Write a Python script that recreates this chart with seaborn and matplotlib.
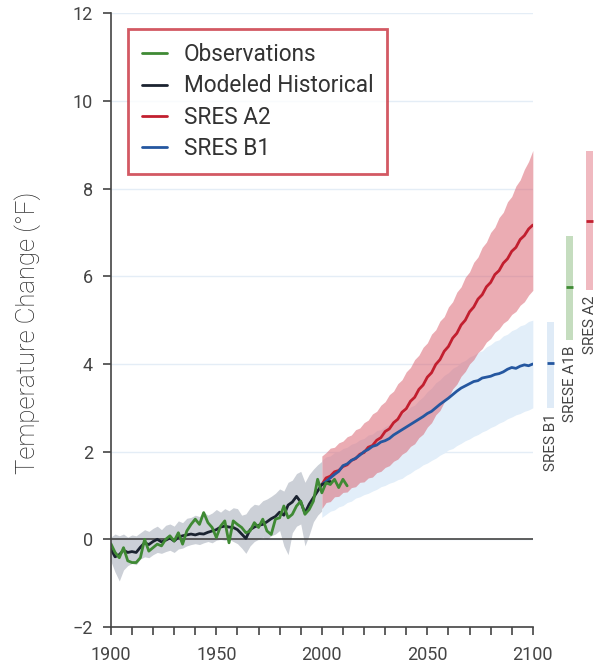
import numpy as np
import pandas as pd
import matplotlib
matplotlib.use('Agg')
import matplotlib.pyplot as plt
import seaborn as sns

# historical period, 2-year steps
hist_years = list(range(1900, 2001, 2))
hist_upper = [0.05, 0.12, 0.08, 0.12, 0.05, 0.10, 0.08, 0.15, 0.22, 0.18,
              0.25, 0.30, 0.22, 0.32, 0.35, 0.30, 0.42, 0.38, 0.48, 0.50,
              0.55, 0.52, 0.62, 0.55, 0.60, 0.68, 0.62, 0.70, 0.65, 0.72,
              0.70, 0.55, 0.58, 0.72, 0.80, 0.78, 0.88, 0.92, 0.98, 1.05,
              1.15, 1.10, 1.30, 1.35, 1.50, 1.55, 1.30, 1.48, 1.60, 1.70, 1.78]
hist_lower = [-0.50, -0.75, -0.95, -0.70, -0.60, -0.55, -0.58, -0.45, -0.40, -0.42,
              -0.35, -0.30, -0.32, -0.28, -0.25, -0.30, -0.22, -0.20, -0.15, -0.12,
              -0.10, -0.12, -0.08, -0.05, -0.08, -0.02, 0.00, -0.02, 0.00, -0.05,
              -0.10, -0.20, -0.32, -0.15, -0.05, 0.00, 0.05, 0.00, 0.08, 0.12,
              0.20, -0.15, -0.35, 0.15, 0.30, 0.35, -0.15, 0.10, 0.40, 0.55, 0.65]

model_years = list(range(1900, 2005, 2))
model_hist = [-0.22, -0.40, -0.35, -0.25, -0.30, -0.28, -0.30, -0.18, -0.08, -0.12,
              -0.05, 0.00, -0.06, -0.02, 0.03, -0.04, 0.05, 0.08, 0.10, 0.12,
              0.10, 0.13, 0.12, 0.16, 0.19, 0.22, 0.28, 0.30, 0.28, 0.27,
              0.22, 0.12, 0.02, 0.22, 0.28, 0.32, 0.34, 0.40, 0.47, 0.52,
              0.62, 0.55, 0.78, 0.85, 0.98, 0.85, 0.60, 0.80, 0.95, 1.10,
              1.25, 1.28, 1.32]

obs_years = list(range(1900, 2013, 2))
observations = [-0.10, -0.30, -0.42, -0.19, -0.49, -0.53, -0.53, -0.42, 0.00, -0.27,
                -0.19, -0.11, -0.15, 0.00, 0.08, -0.04, 0.15, -0.11, 0.19, 0.34,
                0.46, 0.34, 0.61, 0.38, 0.27, 0.04, 0.30, 0.42, -0.08, 0.42,
                0.34, 0.27, 0.15, 0.19, 0.38, 0.27, 0.46, 0.19, 0.11, 0.46,
                0.49, 0.76, 0.49, 0.57, 0.76, 0.87, 0.57, 0.68, 0.87, 1.37,
                1.06, 1.29, 1.25, 1.37, 1.18, 1.37, 1.22]

# scenario period, 2-year steps
proj_years = list(range(2000, 2101, 2))
a2_mean = [1.25, 1.40, 1.44, 1.54, 1.57, 1.66, 1.70, 1.80, 1.84, 1.94,
           1.98, 2.10, 2.14, 2.26, 2.32, 2.46, 2.52, 2.66, 2.74, 2.90,
           2.98, 3.15, 3.24, 3.42, 3.52, 3.70, 3.80, 3.99, 4.10, 4.29,
           4.40, 4.59, 4.70, 4.89, 5.00, 5.19, 5.30, 5.48, 5.58, 5.76,
           5.86, 6.04, 6.13, 6.30, 6.40, 6.57, 6.66, 6.84, 6.93, 7.08, 7.17]
a2_upper = [1.90, 1.98, 2.08, 2.10, 2.20, 2.24, 2.34, 2.38, 2.50, 2.54,
            2.66, 2.72, 2.86, 2.92, 3.06, 3.14, 3.30, 3.38, 3.55, 3.64,
            3.82, 3.92, 4.10, 4.20, 4.38, 4.48, 4.68, 4.78, 4.98, 5.08,
            5.30, 5.42, 5.64, 5.76, 5.98, 6.10, 6.32, 6.44, 6.66, 6.78,
            7.00, 7.12, 7.34, 7.46, 7.70, 7.82, 8.06, 8.20, 8.44, 8.62, 8.87]
a2_lower = [0.70, 0.84, 0.86, 0.97, 0.98, 1.07, 1.08, 1.18, 1.20, 1.30,
            1.31, 1.40, 1.42, 1.52, 1.55, 1.64, 1.68, 1.78, 1.83, 1.94,
            2.00, 2.12, 2.18, 2.32, 2.40, 2.56, 2.66, 2.84, 2.94, 3.13,
            3.24, 3.43, 3.54, 3.72, 3.83, 4.00, 4.10, 4.26, 4.35, 4.50,
            4.58, 4.72, 4.80, 4.93, 5.00, 5.13, 5.20, 5.34, 5.42, 5.57, 5.68]
b1_mean = [1.25, 1.32, 1.40, 1.48, 1.55, 1.68, 1.72, 1.80, 1.85, 1.92,
           2.00, 2.05, 2.12, 2.15, 2.22, 2.25, 2.30, 2.38, 2.44, 2.50,
           2.56, 2.62, 2.68, 2.74, 2.80, 2.87, 2.92, 3.00, 3.08, 3.15,
           3.22, 3.30, 3.38, 3.45, 3.50, 3.55, 3.60, 3.62, 3.68, 3.70,
           3.72, 3.76, 3.78, 3.82, 3.88, 3.92, 3.90, 3.95, 3.98, 3.96, 4.00]
b1_upper = [1.80, 1.88, 1.90, 1.98, 2.00, 2.07, 2.10, 2.17, 2.20, 2.27,
            2.30, 2.38, 2.40, 2.48, 2.50, 2.57, 2.62, 2.70, 2.76, 2.86,
            2.92, 3.02, 3.06, 3.17, 3.25, 3.37, 3.45, 3.57, 3.64, 3.74,
            3.80, 3.90, 3.95, 4.04, 4.08, 4.16, 4.20, 4.27, 4.30, 4.39,
            4.44, 4.52, 4.55, 4.64, 4.68, 4.76, 4.80, 4.87, 4.90, 4.97, 5.00]
b1_lower = [0.50, 0.57, 0.64, 0.67, 0.74, 0.77, 0.84, 0.87, 0.94, 0.97,
            1.02, 1.05, 1.10, 1.14, 1.20, 1.23, 1.28, 1.31, 1.36, 1.39,
            1.46, 1.51, 1.58, 1.63, 1.70, 1.74, 1.80, 1.85, 1.92, 1.97,
            2.04, 2.07, 2.14, 2.19, 2.25, 2.29, 2.35, 2.39, 2.45, 2.49,
            2.55, 2.59, 2.65, 2.69, 2.75, 2.79, 2.84, 2.87, 2.92, 2.95, 3.00]

# 2100 ranges shown at the right
range_names = ['SRES B1', 'SRESE A1B', 'SRES A2']
range_pos = [2108.5, 2117.5, 2127.0]
range_low = [3.0, 4.55, 5.68]
range_high = [4.95, 6.93, 8.87]
range_mid = [4.03, 5.75, 7.27]

GREEN = '#3f8a34'
BLACK = '#1b2330'
RED = '#c21f2f'
BLUE = '#2557a0'

sns.set_style('white')
plt.rcParams['font.family'] = ['Roboto', 'DejaVu Sans']

fig = plt.figure(figsize=(5.96, 6.66), dpi=100)
ax = fig.add_axes([0.186, 0.0586, 0.708, 0.9214])

# uncertainty bands
ax.fill_between(hist_years, hist_lower, hist_upper, color='#c3c8d0', lw=0, alpha=0.85)
ax.fill_between(proj_years, b1_lower, b1_upper, color='#e2eef9', lw=0)
ax.fill_between(proj_years, a2_lower, a2_upper, color='#d9606e', lw=0, alpha=0.52)

obs_df = pd.DataFrame({'year': obs_years, 'temp': observations})
hist_df = pd.DataFrame({'year': model_years, 'temp': model_hist})
a2_df = pd.DataFrame({'year': proj_years, 'temp': a2_mean})
b1_df = pd.DataFrame({'year': proj_years, 'temp': b1_mean})

sns.lineplot(data=a2_df, x='year', y='temp', ax=ax, color=RED, lw=2, label='SRES A2')
sns.lineplot(data=b1_df, x='year', y='temp', ax=ax, color=BLUE, lw=2, label='SRES B1')
sns.lineplot(data=hist_df, x='year', y='temp', ax=ax, color=BLACK, lw=2, label='Modeled Historical')
sns.lineplot(data=obs_df, x='year', y='temp', ax=ax, color=GREEN, lw=2, label='Observations')

ax.axhline(0, color='#444444', lw=1.2, zorder=1)

# range bars beyond 2100
bar_colors = ['#dfebf7', '#c5ddbf', '#f0b9c0']
mid_colors = [BLUE, GREEN, RED]
for name, x, lo, hi, mid, bc, mc in zip(range_names, range_pos, range_low, range_high,
                                        range_mid, bar_colors, mid_colors):
    ax.bar(x, hi - lo, bottom=lo, width=3.4, color=bc, lw=0, clip_on=False)
    ax.hlines(mid, x - 1.7, x + 1.7, color=mc, lw=2, clip_on=False)
    ax.text(x, lo - 0.12, name, rotation=90, ha='center', va='top',
            fontsize=11, color='#444444', clip_on=False)

ax.set_xlim(1900, 2100)
ax.set_ylim(-2, 12)
ax.set_yticks(range(-2, 13, 2))
ax.set_xticks([1900, 1950, 2000, 2050, 2100])
ax.set_xticks(range(1900, 2101, 10), minor=True)
ax.tick_params(axis='both', which='both', direction='out', length=6, width=1.2,
               color='#444444', labelcolor='#444444', labelsize=13)
ax.tick_params(axis='x', which='major', pad=8)
ax.tick_params(axis='y', pad=7)
ax.tick_params(axis='both', which='both', bottom=True, left=True)
ax.grid(axis='y', color='#e4edf6', lw=1)
ax.set_axisbelow(True)
for side in ['top', 'right']:
    ax.spines[side].set_visible(False)
for side in ['left', 'bottom']:
    ax.spines[side].set_color('#444444')
    ax.spines[side].set_linewidth(1.2)

ax.set_xlabel('')
ax.set_ylabel('Temperature Change (°F)', fontsize=18.5, color='#222222',
              fontweight='light')
ax.yaxis.set_label_coords(-0.166, 0.48)

handles, labels = ax.get_legend_handles_labels()
order = ['Observations', 'Modeled Historical', 'SRES A2', 'SRES B1']
hmap = dict(zip(labels, handles))
leg = ax.legend([hmap[k] for k in order], order, loc='upper left',
                bbox_to_anchor=(0.04, 0.974), borderaxespad=0, fancybox=False,
                fontsize=16.3, handlelength=1.1, handletextpad=0.75,
                labelspacing=0.36, borderpad=0.62, labelcolor='#333333')
leg.get_frame().set_edgecolor('#c8303c')
leg.get_frame().set_linewidth(2)

fig.savefig('out.png', dpi=100)
